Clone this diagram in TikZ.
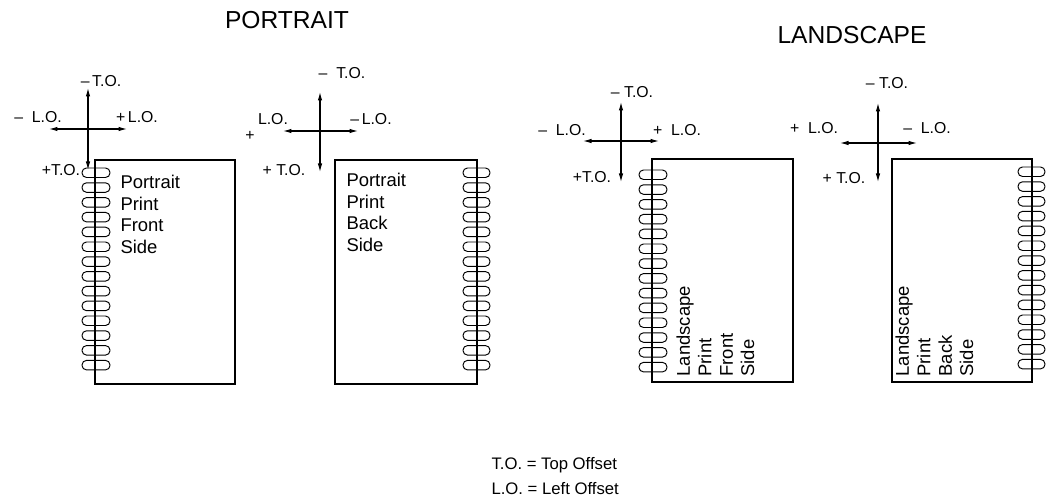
\documentclass[tikz,border=0pt]{standalone}
\usepackage{fontspec}
\setmainfont{Liberation Sans}
\usetikzlibrary{arrows.meta}

\begin{document}
\begin{tikzpicture}[x=0.02cm,y=-0.02cm,
  line width=0.6pt,
  page/.style={draw,line width=0.6pt},
  ring/.style={draw,line width=0.55pt,rounded corners=0.09cm},
  lbl/.style={font=\fontsize{9}{10}\selectfont,inner sep=0pt},
  txt/.style={font=\fontsize{10.5}{12.2}\selectfont,align=left,inner sep=0pt,anchor=north west},
  ttl/.style={font=\fontsize{14}{16}\selectfont,inner sep=0pt},
  leg/.style={font=\fontsize{9.5}{11}\selectfont,inner sep=0pt,anchor=west},
  >={Latex[length=1.7mm,width=0.9mm]}]

\useasboundingbox (0,0) rectangle (1046,499);

% titles
\node[ttl] (ptitle) at (287,20) {PORTRAIT};
\node[ttl] (ltitle) at (852,35) {LANDSCAPE};

% portrait front
\draw[page] (95,160) rectangle (235,384);
\foreach \i in {0,...,13} \draw[ring] (82,{168+14.8*\i}) rectangle ++(28,9.5);
\node[txt] (pf-txt) at (120,175) {Portrait\\Print\\Front\\Side};
\coordinate (pf-n) at (88,88);  \coordinate (pf-s) at (88,170);
\coordinate (pf-w) at (49,129); \coordinate (pf-e) at (127,129);
\draw[<->] (pf-n) -- (pf-s);
\draw[<->] (pf-w) -- (pf-e);
\node[lbl] (pf-mto) at (101,81) {--\,T.O.};
\node[lbl] (pf-mlo) at (38,117) {--\ \ L.O.};
\node[lbl] (pf-plo) at (137,117) {+\,L.O.};
\node[lbl] (pf-pto) at (61,170) {+T.O.};

% portrait back
\draw[page] (335,160) rectangle (477,384);
\foreach \i in {0,...,13} \draw[ring] (463,{168+14.8*\i}) rectangle ++(27,9.5);
\node[txt] (pb-txt) at (346,173) {Portrait\\Print\\Back\\Side};
\coordinate (pb-n) at (320,92);  \coordinate (pb-s) at (320,172);
\coordinate (pb-w) at (283,131); \coordinate (pb-e) at (358,131);
\draw[<->] (pb-n) -- (pb-s);
\draw[<->] (pb-w) -- (pb-e);
\node[lbl] (pb-mto) at (342,73) {--\ \ T.O.};
\node[lbl] (pb-lo) at (273,119) {L.O.};
\node[lbl] (pb-plus) at (250,136) {+};
\node[lbl] (pb-mlo) at (371,119) {--\,L.O.};
\node[lbl] (pb-pto) at (284,170) {+ T.O.};

% landscape front
\draw[page] (652,159) rectangle (793,382);
\foreach \i in {0,...,13} \draw[ring] (639,{170+14.8*\i}) rectangle ++(28,9.5);
\node[txt,rotate=90] (lf-txt) at (676,377) {Landscape\\Print\\Front\\Side};
\coordinate (lf-n) at (621,102); \coordinate (lf-s) at (621,182);
\coordinate (lf-w) at (583,141); \coordinate (lf-e) at (659,141);
\draw[<->] (lf-n) -- (lf-s);
\draw[<->] (lf-w) -- (lf-e);
\node[lbl] (lf-mto) at (632,92) {-- T.O.};
\node[lbl] (lf-mlo) at (562,130) {--\ \ L.O.};
\node[lbl] (lf-plo) at (677,130) {+\ \ L.O.};
\node[lbl] (lf-pto) at (592,177) {+T.O.};

% landscape back
\draw[page] (892,159) rectangle (1032,382);
\foreach \i in {0,...,13} \draw[ring] (1018,{167+14.8*\i}) rectangle ++(27,9.5);
\node[txt,rotate=90] (lb-txt) at (895,377) {Landscape\\Print\\Back\\Side};
\coordinate (lb-n) at (878,103); \coordinate (lb-s) at (878,182);
\coordinate (lb-w) at (840,143); \coordinate (lb-e) at (917,143);
\draw[<->] (lb-n) -- (lb-s);
\draw[<->] (lb-w) -- (lb-e);
\node[lbl] (lb-mto) at (887,83) {-- T.O.};
\node[lbl] (lb-plo) at (814,128) {+\ \ L.O.};
\node[lbl] (lb-mlo) at (927,128) {--\ \ L.O.};
\node[lbl] (lb-pto) at (844,178) {+ T.O.};

% legend
\node[leg] (to-key) at (491,465) {T.O. = Top Offset};
\node[leg] (lo-key) at (491,489) {L.O. = Left Offset};
\end{tikzpicture}
\end{document}
